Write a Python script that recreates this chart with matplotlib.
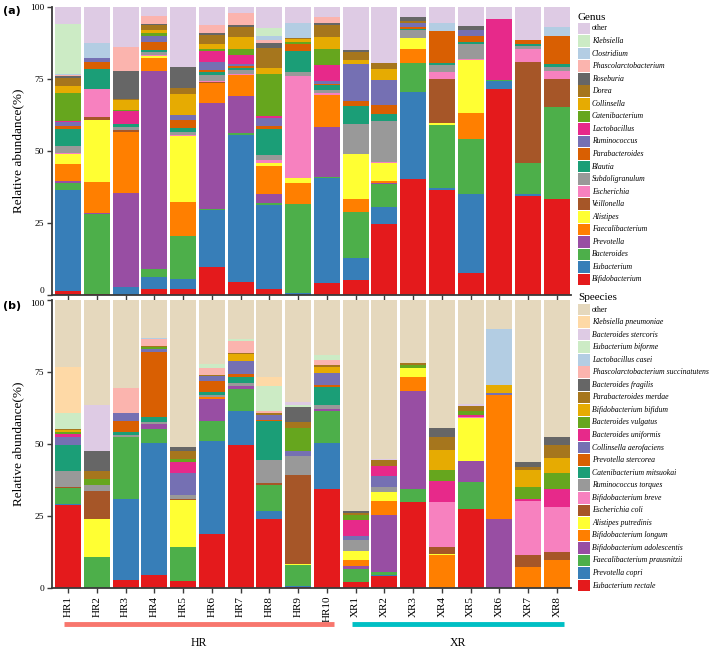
"""
Stacked relative abundance of the top genera (a) and species (b) in HR and XR samples.
"""
import numpy as np
import matplotlib
matplotlib.use("Agg")
import matplotlib.pyplot as plt
from matplotlib.patches import Rectangle
from matplotlib.transforms import blended_transform_factory

samples = ["HR1", "HR2", "HR3", "HR4", "HR5", "HR6", "HR7", "HR8", "HR9", "HR10",
           "XR1", "XR2", "XR3", "XR4", "XR5", "XR6", "XR7", "XR8"]
groups = ["HR", "XR"]

# ---- genus level, bottom of the stack first ----
g_bifidobacterium = [1.4, 0.3, 0, 2.1, 2.0, 9.6, 4.6, 2.0, 0, 4.3, 5.2, 24.6, 40.2, 36.6, 7.5, 71.7, 34.5, 33.2]
g_eubacterium = [35.0, 0, 2.9, 4.3, 3.4, 19.9, 51.1, 29.4, 0.8, 36.4, 7.7, 6.0, 30.3, 0.7, 27.5, 2.5, 0.4, 0.3]
g_bacteroides = [2.6, 27.7, 0, 2.5, 15.1, 0.3, 0.4, 0.6, 30.8, 0.3, 15.8, 7.8, 10.1, 21.7, 19.1, 0.6, 11.0, 31.8]
g_prevotella = [0.5, 0.6, 32.4, 68.8, 0, 36.9, 12.9, 2.9, 0, 17.2, 0, 0.6, 0, 0, 0, 0, 0, 0]
g_faecalibacterium = [5.9, 10.7, 21.3, 4.7, 11.9, 6.9, 7.3, 10.0, 7.4, 11.2, 4.8, 0.7, 4.7, 0, 9.1, 0, 0, 0]
g_alistipes = [3.6, 21.4, 0, 0.5, 22.7, 0, 0, 1.1, 1.7, 0, 15.3, 6.3, 3.9, 0.8, 18.5, 0, 0, 0]
g_veillonella = [0, 1.1, 0.6, 0, 0, 0.3, 0, 0, 0, 0, 0, 0, 0, 15.3, 0, 0, 35.0, 9.8]
g_escherichia = [0.4, 9.9, 0, 0.3, 0.6, 0.4, 0.6, 0.8, 35.3, 0.8, 0, 0.2, 0, 2.4, 0.4, 0, 4.4, 2.6]
g_subdoligranulum = [2.3, 0, 1.2, 1.2, 0.9, 2.0, 1.1, 1.8, 1.5, 1.1, 10.7, 14.1, 2.7, 2.3, 5.0, 0, 1.2, 1.5]
g_blautia = [5.9, 6.9, 1.1, 0.8, 1.4, 1.2, 0.8, 9.2, 7.1, 1.5, 6.0, 2.5, 0.6, 0.9, 0.8, 0, 0.6, 1.1]
g_parabacteroides = [1.1, 2.3, 0, 2.7, 2.9, 0.5, 0.7, 0.8, 2.7, 0.6, 1.9, 3.1, 0.6, 11.0, 1.9, 0, 1.3, 9.6]
g_ruminococcus = [1.5, 1.5, 0, 1.9, 1.5, 2.9, 0.6, 3.0, 0, 0.9, 12.9, 8.7, 1.4, 0, 2.3, 0, 0, 0]
g_lactobacillus = [0.3, 0, 4.3, 0, 0, 3.8, 3.1, 0.5, 0, 5.5, 0, 0, 0, 0, 0, 20.9, 0, 0]
g_catenibacterium = [9.5, 0, 0.6, 1.2, 0, 0.8, 2.1, 14.8, 0.6, 5.5, 0, 0, 0, 0, 0, 0, 0, 0]
g_collinsella = [2.5, 0, 3.2, 0.9, 7.5, 1.8, 4.3, 1.9, 1.1, 4.3, 1.2, 4.0, 0, 0, 0, 0, 0, 0]
g_dorea = [3.0, 0, 0.4, 1.7, 2.1, 2.9, 3.5, 7.0, 0.4, 4.0, 2.9, 2.0, 0.6, 0, 0, 0, 0, 0]
g_roseburia = [0.5, 0, 9.7, 0.6, 7.0, 0.9, 0.5, 1.8, 0, 0.9, 0.6, 0, 1.4, 0, 1.2, 0, 0, 0]
g_phascolarctobacterium = [0.3, 0, 8.4, 2.6, 0, 2.8, 4.3, 0.8, 0, 2.0, 0, 0, 0, 0, 0, 0, 0, 0]
g_clostridium = [0.6, 5.1, 0, 0, 0.3, 0, 0, 1.5, 5.2, 0, 0, 0, 0, 2.8, 0, 0, 0, 3.2]
g_klebsiella = [17.1, 0, 0, 0, 0, 0, 0, 2.9, 0, 0, 0, 0, 0, 0, 0, 0, 0, 0]
g_other = [6.0, 12.5, 13.9, 3.2, 21.0, 6.1, 2.1, 7.2, 5.4, 3.5, 15.0, 19.4, 3.5, 5.5, 6.7, 4.3, 11.6, 6.9]

# ---- species level, bottom of the stack first ----
s_e_rectale = [28.7, 0, 2.9, 4.4, 2.5, 18.7, 49.7, 24.0, 0.3, 34.5, 2.0, 4.0, 29.7, 0, 27.4, 0, 0, 0]
s_p_copri = [0.5, 0, 28.1, 45.9, 0, 32.2, 11.8, 2.8, 0.3, 16.0, 0, 0.6, 0, 0, 0, 0, 0, 0]
s_f_prausnitzii = [5.5, 10.8, 21.4, 5.0, 11.6, 7.1, 7.5, 9.0, 7.3, 10.8, 4.7, 0.8, 4.8, 0, 9.4, 0, 0, 0]
s_b_adolescentis = [0, 0, 0, 1.7, 0, 7.5, 1.2, 0, 0, 0.8, 0.8, 20.0, 33.9, 0, 7.4, 24.0, 0, 0]
s_b_longum = [0, 0, 0, 0, 0, 0.7, 0, 0, 0, 0, 2.3, 4.7, 5.0, 11.3, 0, 43.1, 7.3, 9.8]
s_a_putredinis = [0, 13.2, 0, 0, 16.3, 0, 0, 0, 0.4, 0, 2.9, 3.4, 2.9, 0.6, 14.8, 0, 0, 0]
s_e_coli = [0.3, 9.8, 0, 0, 0.5, 0, 0, 0.8, 30.8, 0, 0, 0, 0, 2.3, 0, 0, 4.1, 2.7]
s_b_breve = [0, 0, 0, 0, 0, 0, 0, 0, 0, 0, 0, 0, 0, 15.5, 0.3, 0, 18.7, 15.6]
s_r_torques = [5.7, 2.0, 0.8, 0.8, 1.5, 0.9, 0.9, 7.9, 6.8, 1.5, 4.1, 1.4, 0, 0, 0, 0, 0, 0]
s_c_mitsuokai = [9.0, 0, 0.8, 1.7, 0, 0.8, 2.0, 13.5, 0, 6.1, 0, 0, 0, 0, 0, 0, 0, 0]
s_p_stercorea = [0, 0, 4.0, 22.6, 0, 4.1, 1.1, 0.5, 0, 0.8, 0, 0, 0, 0, 0, 0, 0, 0]
s_c_aerofaciens = [2.7, 0, 2.9, 0.9, 7.5, 1.6, 4.6, 1.6, 1.5, 4.3, 1.1, 4.1, 0, 0, 0, 0.5, 0, 0]
s_b_uniformis = [1.1, 0, 0, 0, 3.8, 0, 0, 0, 0, 0, 5.6, 3.4, 0, 7.6, 0.8, 0, 0.9, 6.4]
s_b_vulgatus = [0.8, 2.0, 0, 0.8, 1.2, 0, 0, 0, 8.1, 0, 1.7, 0, 1.0, 3.5, 1.2, 0, 3.9, 5.6]
s_b_bifidum = [0.4, 0, 0, 0, 0, 0, 2.4, 0, 0, 2.1, 0, 0, 0, 7.2, 0, 2.9, 6.1, 5.2]
s_p_merdae = [0.4, 2.9, 0, 0.4, 2.7, 0.4, 0.5, 0.8, 2.1, 0.6, 1.0, 2.1, 0.7, 4.4, 1.9, 0, 1.0, 4.4]
s_b_fragilis = [0, 6.7, 0, 0, 1.3, 0, 0, 0, 5.1, 0, 0.7, 0, 0, 3.1, 0, 0, 1.6, 2.6]
s_p_succinatutens = [0, 0, 8.5, 2.3, 0, 2.5, 4.1, 0.4, 0, 1.7, 0, 0, 0, 0, 0, 0, 0, 0]
s_l_casei = [0, 0, 0, 0.4, 0, 0, 0, 0, 0, 0, 0, 0, 0, 0, 0, 19.4, 0, 0]
s_e_biforme = [5.6, 0, 0, 0, 0, 1.2, 0.7, 9.0, 0.7, 1.7, 0, 0, 0, 0, 0, 0, 0, 0]
s_b_stercoris = [0, 16.2, 0, 0, 0, 0, 0, 0, 1.3, 0, 0, 0.3, 0, 0, 0.7, 0, 0, 0]
s_k_pneumoniae = [15.9, 0, 0, 0, 0, 0, 0, 2.8, 0, 0, 0, 0, 0, 0, 0, 0, 0, 0]
s_other = [23.4, 36.4, 30.6, 13.1, 51.1, 22.3, 13.5, 26.9, 35.3, 19.1, 73.1, 55.5, 22.0, 44.5, 36.1, 10.1, 56.4, 47.7]

# shared palette (Set1 + Dark2 + Pastel1), bottom -> top
PAL = ["#e41a1c", "#377eb8", "#4daf4a", "#984ea3", "#ff7f00", "#ffff33", "#a65628",
       "#f781bf", "#999999", "#1b9e77", "#d95f02", "#7570b3", "#e7298a", "#66a61e",
       "#e6ab02", "#a6761d", "#666666", "#fbb4ae", "#b3cde3", "#ccebc5"]

genus = [
    ("Bifidobacterium", g_bifidobacterium), ("Eubacterium", g_eubacterium),
    ("Bacteroides", g_bacteroides), ("Prevotella", g_prevotella),
    ("Faecalibacterium", g_faecalibacterium), ("Alistipes", g_alistipes),
    ("Veillonella", g_veillonella), ("Escherichia", g_escherichia),
    ("Subdoligranulum", g_subdoligranulum), ("Blautia", g_blautia),
    ("Parabacteroides", g_parabacteroides), ("Ruminococcus", g_ruminococcus),
    ("Lactobacillus", g_lactobacillus), ("Catenibacterium", g_catenibacterium),
    ("Collinsella", g_collinsella), ("Dorea", g_dorea), ("Roseburia", g_roseburia),
    ("Phascolarctobacterium", g_phascolarctobacterium), ("Clostridium", g_clostridium),
    ("Klebsiella", g_klebsiella), ("other", g_other),
]
genus_colors = PAL + ["#decbe4"]

species = [
    ("Eubacterium rectale", s_e_rectale), ("Prevotella copri", s_p_copri),
    ("Faecalibacterium prausnitzii", s_f_prausnitzii), ("Bifidobacterium adolescentis", s_b_adolescentis),
    ("Bifidobacterium longum", s_b_longum), ("Alistipes putredinis", s_a_putredinis),
    ("Escherichia coli", s_e_coli), ("Bifidobacterium breve", s_b_breve),
    ("Ruminococcus torques", s_r_torques), ("Catenibacterium mitsuokai", s_c_mitsuokai),
    ("Prevotella stercorea", s_p_stercorea), ("Collinsella aerofaciens", s_c_aerofaciens),
    ("Bacteroides uniformis", s_b_uniformis), ("Bacteroides vulgatus", s_b_vulgatus),
    ("Bifidobacterium bifidum", s_b_bifidum), ("Parabacteroides merdae", s_p_merdae),
    ("Bacteroides fragilis", s_b_fragilis), ("Phascolarctobacterium succinatutens", s_p_succinatutens),
    ("Lactobacillus casei", s_l_casei), ("Eubacterium biforme", s_e_biforme),
    ("Bacteroides stercoris", s_b_stercoris), ("Klebsiella pneumoniae", s_k_pneumoniae),
    ("other", s_other),
]
species_colors = PAL[:18] + ["#b3cde3", "#ccebc5", "#decbe4", "#fed9a6", "#e5d8bd"]

SERIF = "Liberation Serif"
SPINE = "#3a3a3a"
W, H = 709, 651


def draw_panel(ax, layers, colors):
    x = np.arange(len(samples))
    bottom = np.zeros(len(samples))
    for (name, vals), c in zip(layers, colors):
        v = np.asarray(vals, dtype=float)
        ax.bar(x, v, bottom=bottom, width=0.9, color=c, linewidth=0)
        bottom += v
    ax.set_xlim(-0.56, len(samples) - 0.51)
    ax.set_ylim(0, 100)
    ax.set_yticks([0, 25, 50, 75, 100])
    ax.set_yticklabels(["0", "25", "50", "75", "100"], family=SERIF, fontsize=6.8)
    ax.set_xticks(x)
    ax.set_ylabel("Relative abundance(%)", family=SERIF, fontsize=9.5, labelpad=4)
    for s in ("top", "right"):
        ax.spines[s].set_visible(False)
    for s in ("left", "bottom"):
        ax.spines[s].set_color(SPINE)
        ax.spines[s].set_linewidth(1.3)
    ax.tick_params(color=SPINE, width=1.0, length=3.5, pad=2)


def draw_key(title, layers, colors, top_px):
    # legend drawn by hand: top entry is the last stacked layer
    fig.text(578 / W, 1 - top_px / H, title, family=SERIF, fontsize=8, va="center", ha="left")
    names = [n for n, _ in layers][::-1]
    cols = colors[::-1]
    for i, (n, c) in enumerate(zip(names, cols)):
        yc = top_px + 11.5 + i * 12.55
        fig.patches.append(Rectangle((578 / W, 1 - (yc + 5.8) / H), 11.5 / W, 11.6 / H,
                                     transform=fig.transFigure, color=c, lw=0))
        fig.text(592 / W, 1 - yc / H, n, family=SERIF, fontsize=5.6, va="center", ha="left",
                 style="normal" if n == "other" else "italic")


fig = plt.figure(figsize=(W / 100, H / 100), dpi=100)
ax_a = fig.add_axes([52 / W, 1 - 295 / H, (571 - 52) / W, 288 / H])
ax_b = fig.add_axes([52 / W, 1 - 588 / H, (571 - 52) / W, 288 / H])

draw_panel(ax_a, genus, genus_colors)
draw_panel(ax_b, species, species_colors)
ax_a.set_xticklabels([])
ax_b.set_xticklabels(samples, rotation=90, family=SERIF, fontsize=8)

# the two panels touch: nudge the shared 0 / 100 labels apart
ax_a.get_yticklabels()[0].set_verticalalignment("bottom")
ax_b.get_yticklabels()[-1].set_verticalalignment("top")

fig.text(3 / W, 1 - 11 / H, "(a)", fontsize=8, fontweight="bold", va="center")
fig.text(3 / W, 1 - 306 / H, "(b)", fontsize=8, fontweight="bold", va="center")

draw_key("Genus", genus, genus_colors, 17)
draw_key("Speecies", species, species_colors, 298)

# group bars under the sample names
tr = blended_transform_factory(ax_b.transData, fig.transFigure)
spans = [(-0.14, 9.25, "#f8766d"), (9.87, 17.25, "#00bfc4")]
for (x0, x1, c), g in zip(spans, groups):
    ax_b.plot([x0, x1], [1 - 624 / H] * 2, color=c, lw=3.5, solid_capstyle="butt",
              transform=tr, clip_on=False)
    fig.text(ax_b.transData.transform(((x0 + x1) / 2, 0))[0] / W, 1 - 643 / H, g,
             family=SERIF, fontsize=8.5, ha="center", va="center")

fig.savefig("out.png", dpi=100)
